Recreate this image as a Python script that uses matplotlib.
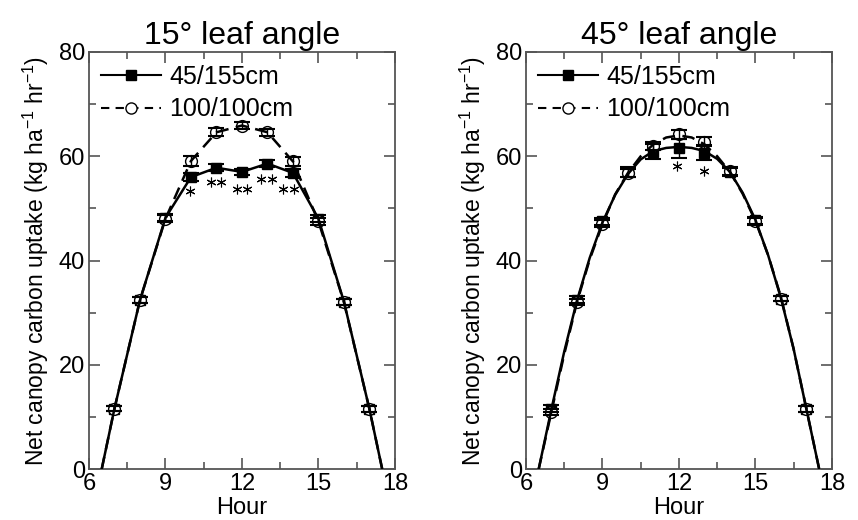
import matplotlib
matplotlib.use("Agg")
import matplotlib.pyplot as plt
from matplotlib.ticker import MultipleLocator

plt.rcParams['font.family'] = ['Liberation Sans', 'DejaVu Sans']
plt.rcParams['mathtext.fontset'] = 'custom'
plt.rcParams['mathtext.rm'] = 'Liberation Sans'
plt.rcParams['mathtext.it'] = 'Liberation Sans'

# data
hours = [7, 8, 9, 10, 11, 12, 13, 14, 15, 16, 17]
x_zero = [6.5, 17.5]   # where the lines hit zero

# 15 deg leaf angle
a15_sq = [11.6, 32.4, 48.2, 56.0, 57.8, 57.0, 58.6, 56.8, 48.0, 32.1, 11.5]
a15_sq_err = [0.5, 0.6, 0.7, 0.8, 0.7, 0.6, 0.7, 0.8, 0.7, 0.6, 0.5]
a15_ci = [11.6, 32.4, 48.0, 59.1, 64.6, 65.9, 64.6, 59.0, 47.5, 32.0, 11.5]
a15_ci_err = [0.5, 0.6, 0.7, 0.9, 0.8, 0.6, 0.7, 0.9, 0.7, 0.6, 0.5]
a15_star_x = [9.96, 10.77, 11.17, 11.79, 12.18, 12.73, 13.16, 13.62, 14.04]
a15_star_y = [53.3, 55.1, 55.1, 53.8, 53.8, 55.6, 55.6, 53.8, 53.8]

# 45 deg leaf angle
a45_sq = [11.6, 32.5, 47.5, 57.0, 60.9, 61.5, 60.7, 57.0, 47.7, 32.7, 11.5]
a45_sq_err = [0.6, 0.6, 0.7, 0.9, 1.5, 1.9, 1.4, 0.8, 0.6, 0.5, 0.5]
a45_ci = [11.0, 32.0, 47.1, 56.8, 62.0, 64.2, 62.8, 57.2, 47.5, 32.7, 11.5]
a45_ci_err = [0.6, 0.6, 0.7, 0.8, 0.8, 0.8, 0.8, 0.7, 0.6, 0.5, 0.5]
a45_star_x = [11.94, 12.97]
a45_star_y = [58.1, 57.2]

# fitted curves, 45 deg panel
fit_x = [6.5, 7, 7.5, 8, 8.5, 9, 9.5, 10, 10.5, 11, 11.5, 12,
         12.5, 13, 13.5, 14, 14.5, 15, 15.5, 16, 16.5, 17, 17.5]
fit_sq = [0, 11.5, 22.5, 32.3, 40.5, 47.3, 52.6, 56.6, 59.4, 61.0, 61.6, 61.8,
          61.6, 61.0, 59.5, 57.0, 53.0, 47.8, 41.0, 32.8, 23.0, 11.5, 0]
fit_ci = [0, 11.0, 22.0, 32.0, 40.2, 47.0, 52.7, 56.8, 60.0, 62.3, 63.6, 64.0,
          63.6, 62.3, 60.0, 57.0, 52.8, 47.6, 41.0, 33.0, 23.0, 11.5, 0]

fig = plt.figure(figsize=(8.58, 5.2), dpi=100)
ax1 = fig.add_axes([0.1037, 0.098, 0.3566, 0.802])
ax2 = fig.add_axes([0.613, 0.098, 0.3566, 0.802])

spine_col = '#555555'


def style(ax, title):
    ax.set_xlim(6, 18)
    ax.set_ylim(0, 80)
    ax.xaxis.set_major_locator(MultipleLocator(3))
    ax.xaxis.set_minor_locator(MultipleLocator(1.5))
    ax.yaxis.set_major_locator(MultipleLocator(20))
    ax.yaxis.set_minor_locator(MultipleLocator(10))
    ax.tick_params(which='both', direction='in', top=True, right=True,
                   color=spine_col, width=1.2, labelsize=17, pad=3)
    ax.tick_params(which='major', length=8)
    ax.tick_params(which='minor', length=5)
    for s in ax.spines.values():
        s.set_color(spine_col)
        s.set_linewidth(1.3)
    ax.set_title(title, fontsize=23, pad=6)
    ax.set_xlabel('Hour', fontsize=17, labelpad=1)
    ax.set_ylabel('Net canopy carbon uptake (kg ha$^{-1}$ hr$^{-1}$)',
                  fontsize=16.5, labelpad=5)


def points(ax, sq, sq_err, ci, ci_err):
    ax.plot(hours, sq, 's', color='black', ms=7, zorder=3)
    ax.plot(hours, ci, 'o', mfc='white', mec='black', ms=8.5, mew=1, zorder=4)
    ax.errorbar(hours, sq, yerr=sq_err, fmt='none', ecolor='black',
                capsize=6, elinewidth=1, capthick=1.5, zorder=6)
    ax.errorbar(hours, ci, yerr=ci_err, fmt='none', ecolor='black',
                capsize=6, elinewidth=1, capthick=1.5, zorder=6)


# left panel: lines through the points
l15_x = [x_zero[0]] + hours + [x_zero[1]]
ax1.plot(l15_x, [0] + a15_sq + [0], '-', color='black', lw=1.8, zorder=5)
ax1.plot(l15_x, [0] + a15_ci + [0], '--', color='black', lw=1.8,
         dashes=(5, 3), zorder=5)
points(ax1, a15_sq, a15_sq_err, a15_ci, a15_ci_err)
ax1.plot(a15_star_x, a15_star_y, ls='none', marker=(6, 2, 0), ms=7,
         mew=0.8, color='black')

# right panel: fitted curves
ax2.plot(fit_x, fit_sq, '-', color='black', lw=1.8, zorder=5)
ax2.plot(fit_x, fit_ci, '--', color='black', lw=1.8, dashes=(5, 3), zorder=5)
points(ax2, a45_sq, a45_sq_err, a45_ci, a45_ci_err)
ax2.plot(a45_star_x, a45_star_y, ls='none', marker=(6, 2, 0), ms=7,
         mew=0.8, color='black')

style(ax1, '15° leaf angle')
style(ax2, '45° leaf angle')

# legends
for ax in (ax1, ax2):
    h1, = ax.plot([], [], '-s', color='black', lw=1.5, ms=7)
    h2, = ax.plot([], [], '--o', color='black', lw=1.5, ms=8, mfc='white',
                  mew=1, dashes=(4, 3))
    ax.legend([h1, h2], ['45/155cm', '100/100cm'], loc='upper left',
              frameon=False, fontsize=18, handlelength=2.4, handletextpad=0.3,
              labelspacing=0.35, borderaxespad=0.3, borderpad=0.2)

fig.savefig('out.png', dpi=100)
